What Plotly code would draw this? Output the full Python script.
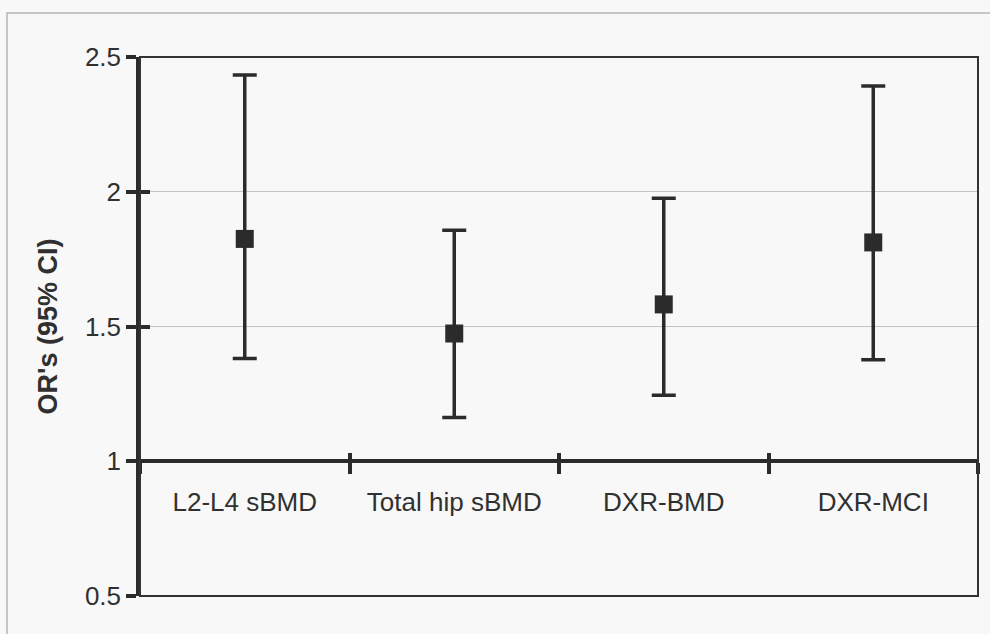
import plotly.graph_objects as go

# Odds ratios with 95% confidence intervals for each bone measure
categories = ["L2-L4 sBMD", "Total hip sBMD", "DXR-BMD", "DXR-MCI"]
or_values = [1.825, 1.474, 1.582, 1.812]
ci_lower = [1.381, 1.162, 1.245, 1.377]
ci_upper = [2.433, 1.857, 1.976, 2.392]
y_ticks = [0.5, 1, 1.5, 2, 2.5]

ink = "#2b2b2b"
text_col = "#303030"
bg = "#f8f8f8"
font_family = "Liberation Sans, Arial, sans-serif"

err_plus = [u - v for u, v in zip(ci_upper, or_values)]
err_minus = [v - l for v, l in zip(or_values, ci_lower)]

fig = go.Figure()

fig.add_trace(go.Scatter(
    x=categories,
    y=or_values,
    mode="markers",
    marker=dict(symbol="square", size=18, color=ink),
    error_y=dict(
        type="data",
        symmetric=False,
        array=err_plus,
        arrayminus=err_minus,
        thickness=3.5,
        width=12,
        color=ink,
    ),
    showlegend=False,
    hoverinfo="x+y",
))

# invisible companion trace that carries the upper halves of the crossing ticks
fig.add_trace(go.Scatter(
    x=categories,
    y=or_values,
    xaxis="x2",
    yaxis="y2",
    mode="markers",
    marker=dict(opacity=0),
    showlegend=False,
    hoverinfo="skip",
))

fig.update_layout(
    width=990,
    height=634,
    margin=dict(l=140, r=12, t=57, b=38),
    paper_bgcolor=bg,
    plot_bgcolor=bg,
    font=dict(family=font_family, color=text_col),
    xaxis=dict(
        type="category",
        categoryorder="array",
        categoryarray=categories,
        range=[-0.5, 3.5],
        anchor="free",
        position=0.25,
        showline=True,
        linewidth=3.5,
        linecolor=ink,
        ticks="outside",
        ticklen=11,
        tickwidth=3.5,
        tickcolor=ink,
        tickson="boundaries",
        ticklabelstandoff=17,
        tickfont=dict(size=26, color=text_col),
        showgrid=False,
        zeroline=False,
    ),
    xaxis2=dict(
        type="category",
        categoryorder="array",
        categoryarray=categories,
        range=[-0.5, 3.5],
        overlaying="x",
        anchor="free",
        position=0.25,
        showline=False,
        ticks="inside",
        ticklen=8,
        tickwidth=3.5,
        tickcolor=ink,
        tickson="boundaries",
        showticklabels=False,
        showgrid=False,
        zeroline=False,
    ),
    yaxis=dict(
        range=[0.5, 2.5],
        tickvals=y_ticks,
        showline=True,
        linewidth=3.5,
        linecolor=ink,
        ticks="outside",
        ticklen=10,
        tickwidth=3.5,
        tickcolor=ink,
        tickfont=dict(size=26, color=text_col),
        showgrid=True,
        gridcolor="#c4c4c4",
        gridwidth=1,
        zeroline=False,
        title=dict(
            text="OR's (95% CI)",
            font=dict(size=27, color=text_col, weight="bold"),
            standoff=20,
        ),
    ),
    yaxis2=dict(
        range=[0.5, 2.5],
        tickvals=y_ticks,
        overlaying="y",
        anchor="x",
        side="left",
        showline=False,
        ticks="inside",
        ticklen=10,
        tickwidth=3.5,
        tickcolor=ink,
        showticklabels=False,
        showgrid=False,
        zeroline=False,
    ),
    shapes=[
        # plot-area frame
        dict(type="rect", xref="paper", yref="paper", x0=0, x1=1, y0=0, y1=1,
             line=dict(color="#333333", width=2), layer="above"),
        # outer chart-area border
        dict(type="rect", xref="paper", yref="paper", x0=-0.1587, x1=1.05,
             y0=-0.2, y1=1.0816, line=dict(color="#b4b4b4", width=1.5),
             layer="below"),
    ],
)

fig.write_html("out.html")
